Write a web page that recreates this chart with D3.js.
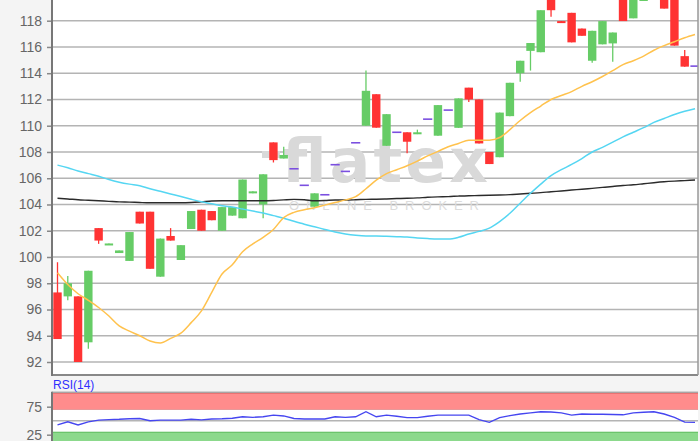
<!DOCTYPE html>
<html>
<head>
<meta charset="utf-8">
<script src="https://cdn.jsdelivr.net/npm/d3@7"></script>
<style>
html,body{margin:0;padding:0;background:#f4f4f4;}
svg{display:block;}
</style>
</head>
<body>
<svg id="chart" width="700" height="441"></svg>
<script>
// ---- data ----
const days = d3.range(63);
const open  = [97.3, 97.0, 97.0, 93.5, 102.2, 100.97, 100.3, 99.7, 103.45, 103.45, 98.5, 101.6, 99.77, 102.13, 103.6, 103.5, 102.0, 103.15, 102.95, 104.85, 104.0, 108.73, 107.5, 106.72, 105.46, 103.83, 104.74, 107.03, 106.52, 108.7, 110.0, 112.4, 108.47, 109.5, 109.5, 109.36, 110.5, 109.24, 111.19, 109.84, 112.9, 112.0, 108.0, 107.6, 110.73, 114.0, 115.7, 115.6, 119.6, 117.97, 118.6, 117.4, 114.95, 116.2, 116.27, 119.8, 118.18, 119.5, 120.0, 120.2, 120.0, 115.3, 114.54];
const high  = [99.6, 98.55, 97.0, 98.95, 102.2, 101.03, 100.5, 101.9, 103.45, 103.45, 101.4, 102.2, 100.9, 103.5, 103.6, 103.5, 103.8, 103.8, 105.9, 105.0, 106.3, 108.73, 108.4, 106.72, 105.46, 104.85, 104.74, 107.03, 106.52, 108.7, 114.2, 112.4, 110.88, 109.5, 109.5, 109.7, 110.5, 111.57, 111.19, 112.08, 112.9, 112.0, 108.0, 111.0, 113.27, 114.95, 116.3, 118.8, 119.6, 117.97, 118.6, 117.4, 117.23, 117.97, 117.1, 119.8, 119.9, 120.3, 120.8, 120.2, 120.0, 115.76, 114.54];
const low   = [93.75, 96.7, 92.0, 93.0, 101.0, 100.97, 100.3, 99.7, 102.55, 99.1, 98.5, 101.25, 99.77, 102.13, 102.0, 102.8, 102.0, 103.15, 102.95, 104.85, 102.95, 107.2, 107.5, 106.72, 105.46, 103.83, 104.74, 107.03, 106.52, 108.7, 110.0, 109.85, 108.47, 109.5, 107.9, 109.36, 110.5, 109.24, 111.19, 109.84, 111.8, 108.65, 107.08, 107.6, 110.73, 113.35, 114.2, 115.6, 118.3, 117.84, 116.35, 116.85, 114.8, 116.2, 114.87, 117.97, 118.18, 119.5, 120.0, 118.92, 116.1, 114.5, 114.54];
const close = [93.75, 98.0, 92.0, 98.95, 101.25, 101.03, 100.5, 101.9, 102.55, 99.1, 101.4, 101.25, 100.9, 103.5, 102.0, 102.8, 103.8, 103.8, 105.9, 105.0, 106.3, 107.38, 107.77, 106.72, 105.46, 104.85, 104.74, 107.03, 106.52, 108.7, 112.66, 109.85, 110.88, 109.5, 108.78, 109.5, 110.5, 111.57, 111.19, 112.08, 112.0, 108.65, 107.08, 111.0, 113.27, 114.95, 116.3, 118.8, 118.8, 117.84, 116.35, 116.85, 117.23, 117.97, 117.1, 117.97, 119.9, 120.3, 120.8, 118.92, 116.1, 114.5, 114.54];

const maOrange = [98.8, 97.9, 97.2, 96.7, 96.15, 95.5, 94.75, 94.35, 94.0, 93.6, 93.45, 93.8, 94.2, 95.0, 95.9, 97.3, 98.7, 99.4, 100.4, 101.0, 101.5, 102.1, 103.0, 103.4, 103.6, 103.75, 103.95, 104.15, 104.35, 104.6, 105.2, 105.85, 106.35, 106.65, 106.95, 107.3, 107.7, 108.05, 108.4, 108.65, 108.9, 108.9, 108.9, 109.1, 109.7, 110.4, 111.0, 111.5, 112.0, 112.3, 112.6, 113.0, 113.35, 113.75, 114.2, 114.65, 114.95, 115.3, 115.75, 116.1, 116.4, 116.7, 116.95];
const maCyan = [107.0, 106.8, 106.55, 106.35, 106.15, 105.9, 105.7, 105.55, 105.43, 105.2, 105.0, 104.8, 104.6, 104.4, 104.2, 104.05, 103.9, 103.8, 103.65, 103.5, 103.35, 103.15, 102.95, 102.72, 102.5, 102.3, 102.1, 101.9, 101.75, 101.65, 101.6, 101.6, 101.58, 101.55, 101.52, 101.45, 101.4, 101.37, 101.37, 101.5, 101.75, 101.95, 102.2, 102.7, 103.33, 104.1, 104.85, 105.55, 106.2, 106.65, 107.05, 107.5, 108.0, 108.35, 108.75, 109.15, 109.5, 109.85, 110.25, 110.55, 110.85, 111.1, 111.3];
const maBlack = [104.47, 104.42, 104.36, 104.32, 104.28, 104.24, 104.2, 104.18, 104.15, 104.13, 104.13, 104.13, 104.13, 104.15, 104.2, 104.26, 104.28, 104.28, 104.28, 104.28, 104.28, 104.3, 104.35, 104.39, 104.36, 104.28, 104.3, 104.34, 104.34, 104.36, 104.39, 104.4, 104.42, 104.45, 104.47, 104.5, 104.55, 104.58, 104.6, 104.64, 104.67, 104.68, 104.7, 104.72, 104.75, 104.8, 104.85, 104.9, 104.97, 105.03, 105.1, 105.16, 105.23, 105.3, 105.37, 105.45, 105.5, 105.58, 105.66, 105.73, 105.78, 105.82, 105.86];
const rsi = [42.5, 48, 42.5, 48, 51, 52, 52.5, 53.5, 54, 50, 51, 51, 51, 52.5, 51.5, 53, 53.5, 54.5, 57, 56, 57, 60, 58.5, 54, 53, 53, 53, 57, 56, 57, 66, 57, 60, 58, 55.5, 55.5, 58, 60, 60, 60, 60, 52, 47, 55.5, 59, 62, 64, 66, 65.5, 64, 60, 62, 61.5, 61.5, 61, 60.5, 64, 65, 66, 62, 56, 47.5, 47];

const priceTicks = [92, 94, 96, 98, 100, 102, 104, 106, 108, 110, 112, 114, 116, 118, 120];
const rsiTicks = [75, 25];
const rsiZones = [{from: 70, to: 100, fill: "#ff8c8c", edge: "#e36a6a"}, {from: 0, to: 30, fill: "#8cd98c", edge: "#6cc46c"}];

// ---- layout ----
const svg = d3.select("#chart");
const L = 52, R = 698, mainBottom = 375, rsiTop = 392.7, H = 441;

const x = d3.scalePoint().domain(days).range([57.5, 695]);
const y = d3.scaleLinear().domain([92, 118]).range([362, 20.7]);
const yr = d3.scaleLinear().domain([0, 100]).range([448.7, rsiTop]);
const bw = 8.4;

// panels backgrounds
svg.append("rect").attr("x", L).attr("y", 0).attr("width", R - L).attr("height", mainBottom).attr("fill", "#fff");
svg.append("rect").attr("x", L).attr("y", rsiTop).attr("width", R - L).attr("height", H - rsiTop).attr("fill", "#fff");

svg.append("defs").append("clipPath").attr("id", "clipMain")
  .append("rect").attr("x", L).attr("y", 0).attr("width", R - L).attr("height", mainBottom);
svg.select("defs").append("clipPath").attr("id", "clipRsi")
  .append("rect").attr("x", L).attr("y", rsiTop).attr("width", R - L).attr("height", H - rsiTop);

// gridlines
svg.append("g").selectAll("line").data(priceTicks).join("line")
  .attr("x1", L).attr("x2", R).attr("y1", d => y(d)).attr("y2", d => y(d))
  .attr("stroke", "#b4b4b4").attr("stroke-width", 1.5);

// watermark
const wm = svg.append("g").attr("clip-path", "url(#clipMain)");
wm.append("rect").attr("x", 262).attr("y", 151).attr("width", 18).attr("height", 7).attr("fill", "#d9d9d9");
wm.append("text").attr("x", 282).attr("y", 182).attr("textLength", 206).attr("lengthAdjust", "spacing")
  .attr("font-family", "'DejaVu Sans', sans-serif").attr("font-size", 60).attr("font-weight", "bold")
  .attr("fill", "#d9d9d9").text("flatex");
wm.append("text").attr("x", 289).attr("y", 210).attr("textLength", 190).attr("lengthAdjust", "spacing")
  .attr("font-family", "'Liberation Sans', Arial, sans-serif").attr("font-size", 13)
  .attr("fill", "#dcdcdc").text("ONLINE BROKER");

// candles
const data = days.map(i => ({i, o: open[i], h: high[i], l: low[i], c: close[i]}));
const colorOf = d => d.o === d.c ? "#7b4fe0" : (d.c > d.o ? "#66cc66" : "#ff3333");
const cg = svg.append("g").attr("clip-path", "url(#clipMain)");
cg.selectAll("line.wick").data(data.filter(d => d.o !== d.c)).join("line")
  .attr("class", "wick")
  .attr("x1", d => x(d.i)).attr("x2", d => x(d.i))
  .attr("y1", d => y(d.h)).attr("y2", d => y(d.l))
  .attr("stroke", colorOf).attr("stroke-width", 1.3);
cg.selectAll("rect.body").data(data.filter(d => d.o !== d.c)).join("rect")
  .attr("class", "body")
  .attr("x", d => x(d.i) - bw / 2).attr("width", bw)
  .attr("y", d => y(Math.max(d.o, d.c)))
  .attr("height", d => Math.max(2, Math.abs(y(d.o) - y(d.c))))
  .attr("fill", colorOf);
cg.selectAll("line.doji").data(data.filter(d => d.o === d.c)).join("line")
  .attr("class", "doji")
  .attr("x1", d => x(d.i) - 4.6).attr("x2", d => x(d.i) + 4.6)
  .attr("y1", d => y(d.c)).attr("y2", d => y(d.c))
  .attr("stroke", colorOf).attr("stroke-width", 1.6);

// moving averages
const lineGen = arr => d3.line().x((d, i) => x(i)).y(d => y(d)).curve(d3.curveMonotoneX)(arr);
const lg = svg.append("g").attr("clip-path", "url(#clipMain)");
lg.append("path").attr("d", lineGen(maBlack)).attr("fill", "none").attr("stroke", "#2b2b2b").attr("stroke-width", 1.4);
lg.append("path").attr("d", lineGen(maCyan)).attr("fill", "none").attr("stroke", "#55d6f2").attr("stroke-width", 1.5);
lg.append("path").attr("d", lineGen(maOrange)).attr("fill", "none").attr("stroke", "#ffc24d").attr("stroke-width", 1.5);

// main frame
svg.append("line").attr("x1", L).attr("x2", R).attr("y1", mainBottom).attr("y2", mainBottom).attr("stroke", "#888").attr("stroke-width", 2);
svg.append("line").attr("x1", R).attr("x2", R).attr("y1", 0).attr("y2", mainBottom).attr("stroke", "#999").attr("stroke-width", 1.5);

// price axis
const ya = svg.append("g").attr("transform", `translate(${L},0)`)
  .call(d3.axisLeft(y).tickValues(priceTicks).tickFormat(d3.format("d")).tickSize(5).tickPadding(5));
ya.select(".domain").remove();
ya.selectAll(".tick line").attr("stroke", "#888").attr("stroke-width", 1.5);
ya.selectAll(".tick text").attr("fill", "#666").attr("font-size", 14).attr("font-family", "'Liberation Sans', Arial, sans-serif");
svg.append("line").attr("x1", L).attr("x2", L).attr("y1", 0).attr("y2", mainBottom + 1).attr("stroke", "#777").attr("stroke-width", 2);

// RSI panel
const rg = svg.append("g").attr("clip-path", "url(#clipRsi)");
rg.selectAll("rect.zone").data(rsiZones).join("rect").attr("class", "zone")
  .attr("x", L).attr("width", R - L)
  .attr("y", d => yr(d.to)).attr("height", d => yr(d.from) - yr(d.to))
  .attr("fill", d => d.fill);
rg.selectAll("line.zedge").data(rsiZones).join("line").attr("class", "zedge")
  .attr("x1", L).attr("x2", R)
  .attr("y1", d => yr(d.to) + 0.5).attr("y2", d => yr(d.to) + 0.5)
  .attr("stroke", d => d.edge).attr("stroke-width", 1.2);
rg.append("line").attr("x1", L).attr("x2", R).attr("y1", yr(70)).attr("y2", yr(70)).attr("stroke", "#e79a9a").attr("stroke-width", 1);
rg.append("line").attr("x1", L).attr("x2", R).attr("y1", yr(50)).attr("y2", yr(50)).attr("stroke", "#b4b4b4").attr("stroke-width", 1.5);
rg.append("path").attr("d", d3.line().x((d, i) => x(i)).y(d => yr(d))(rsi))
  .attr("fill", "none").attr("stroke", "#4646f0").attr("stroke-width", 1.4);

const ra = svg.append("g").attr("transform", `translate(${L},0)`)
  .call(d3.axisLeft(yr).tickValues(rsiTicks).tickSize(5).tickPadding(5));
ra.select(".domain").remove();
ra.selectAll(".tick line").attr("stroke", "#888").attr("stroke-width", 1.5);
ra.selectAll(".tick text").attr("fill", "#666").attr("font-size", 14).attr("font-family", "'Liberation Sans', Arial, sans-serif");
svg.append("line").attr("x1", L).attr("x2", L).attr("y1", rsiTop - 1).attr("y2", H).attr("stroke", "#777").attr("stroke-width", 2);
svg.append("line").attr("x1", L).attr("x2", R).attr("y1", rsiTop - 0.5).attr("y2", rsiTop - 0.5).attr("stroke", "#888").attr("stroke-width", 1);

svg.append("text").attr("x", 53).attr("y", 389).attr("fill", "#2f2fff")
  .attr("font-family", "'Liberation Sans', Arial, sans-serif").attr("font-size", 12).text("RSI(14)");
</script>
</body>
</html>
